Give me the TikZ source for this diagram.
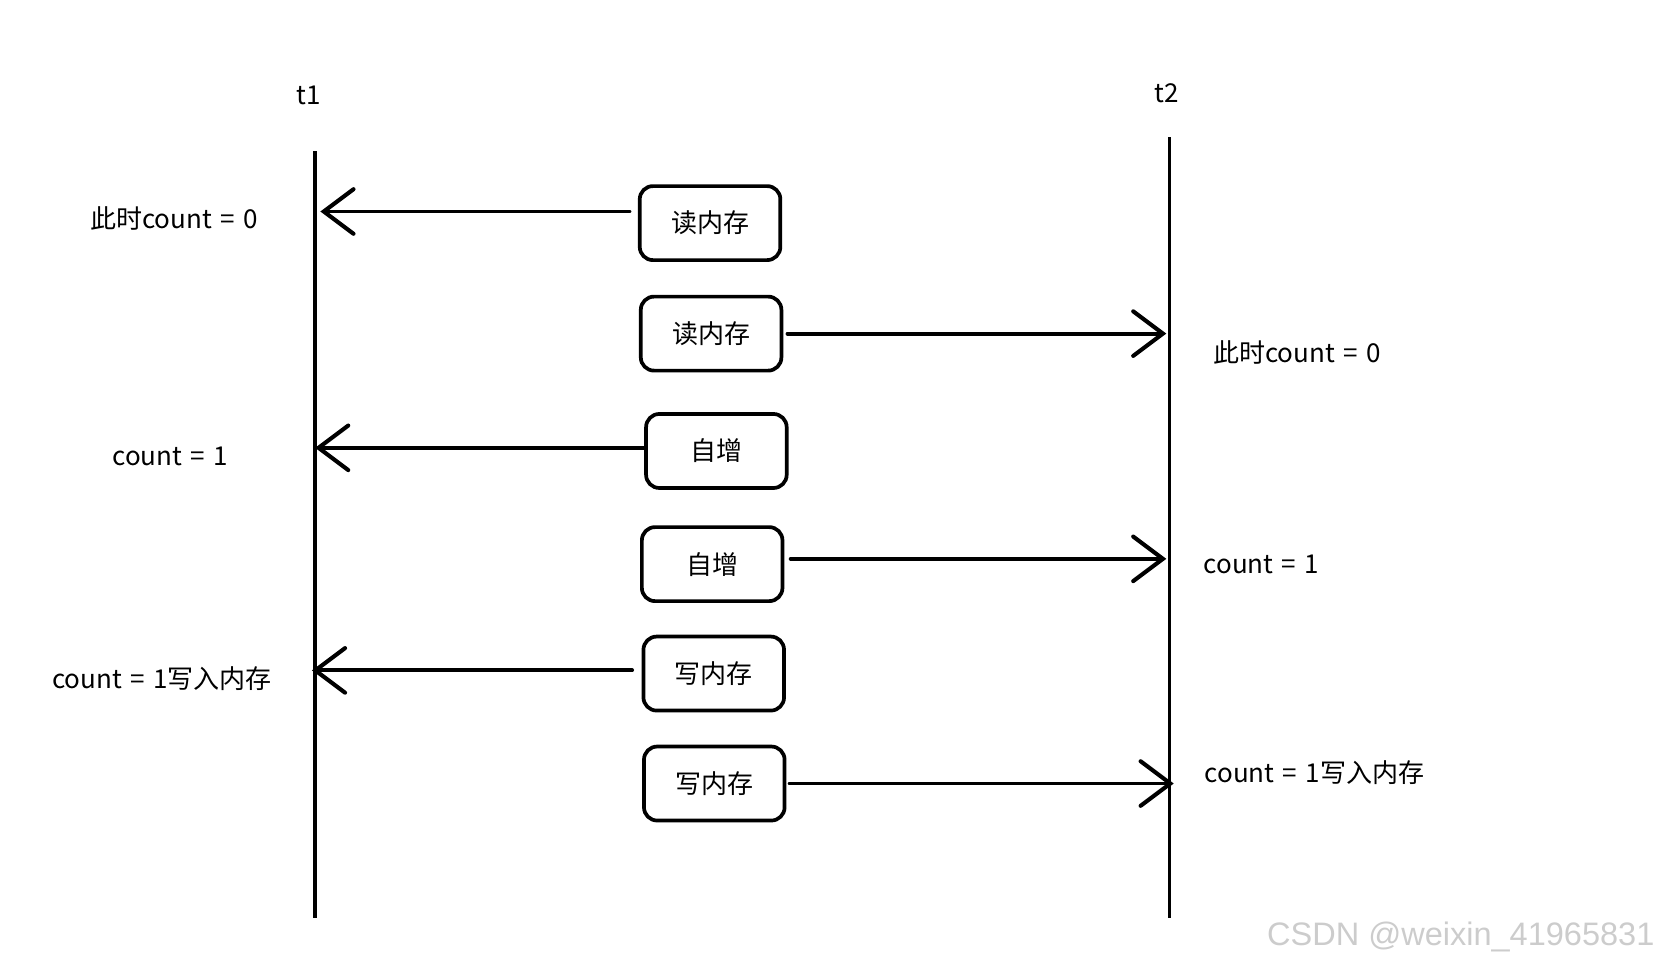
\documentclass[tikz,border=0pt]{standalone}
\usepackage{fontspec}
\setmainfont{Noto Sans CJK SC}
\newfontfamily\wmfont{Liberation Sans}
\usetikzlibrary{arrows.meta}
\newcommand{\eqsp}{\hspace{0.32em}=\hspace{0.32em}}
\begin{document}
\begin{tikzpicture}[x=0.02cm,y=-0.02cm,
  every node/.style={font=\fontsize{14pt}{16pt}\selectfont, inner sep=0pt},
  opbox/.style={draw, line width=2pt, rounded corners=0.25cm, minimum width=2.66cm, minimum height=1.4cm},
  life/.style={line width=2.1pt},
  arr/.style={line width=2.1pt, line cap=round, -{Straight Barb[length=16pt,width=24pt,line width=2.2pt,line cap=round]}},
  lbl/.style={anchor=west}]
\useasboundingbox (0,0) rectangle (1568,916);
% lifelines
\coordinate (t1a) at (298,143);
\coordinate (t1b) at (298,868);
\coordinate (t2a) at (1106,130);
\coordinate (t2b) at (1106,868);
\draw[life] (t1a) -- (t1b);
\draw[life] (t2a) -- (t2b);
\node (t1) at (292,90) {t1};
\node (t2) at (1103,88) {t2};
% boxes
\node[opbox] (b1) at (671.5,211) {读内存};
\node[opbox] (b2) at (672.5,315.5) {读内存};
\node[opbox] (b3) at (677.5,426.5) {自增};
\node[opbox] (b4) at (673.5,533.5) {自增};
\node[opbox] (b5) at (675,637) {写内存};
\node[opbox] (b6) at (675.5,741) {写内存};
% arrows
\coordinate (s1) at ([yshift=0.22cm,xshift=-0.16cm]b1.west);
\draw[arr] (s1) -- ([xshift=0.1cm]t1a |- s1);
\coordinate (s2) at ([xshift=0.08cm]b2.east);
\draw[arr] (s2) -- ([xshift=-0.06cm]t2a |- s2);
\coordinate (s3) at ([yshift=0.06cm]b3.west);
\draw[arr] (s3) -- (t1a |- s3);
\coordinate (s4) at ([yshift=0.1cm,xshift=0.12cm]b4.east);
\draw[arr] (s4) -- ([xshift=-0.06cm]t2a |- s4);
\coordinate (s5) at ([yshift=0.06cm,xshift=-0.18cm]b5.west);
\draw[arr] (s5) -- ([xshift=-0.06cm]t1a |- s5);
\coordinate (s6) at ([xshift=0.06cm]b6.east);
\draw[arr] (s6) -- ([xshift=0.08cm]t2a |- s6);
% labels
\node[lbl] (l1) at (85,207) {此时count\eqsp 0};
\node[lbl] (r1) at (1147,333) {此时count\eqsp 0};
\node[lbl] (l2) at (106,432) {count\eqsp 1};
\node[lbl] (r2) at (1138,534) {count\eqsp 1};
\node[lbl] (l3) at (49,642) {count\eqsp 1写入内存};
\node[lbl] (r3) at (1139,731) {count\eqsp 1写入内存};
% watermark
\node[anchor=east, text=black!20, font=\wmfont\fontsize{17.5pt}{20pt}\selectfont] (wm) at (1565,886) {CSDN @weixin\_41965831};
\end{tikzpicture}
\end{document}
